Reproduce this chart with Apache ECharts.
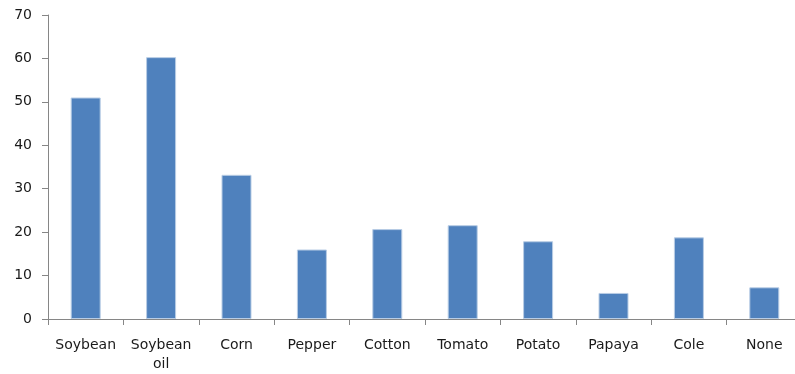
<!DOCTYPE html>
<html>
<head>
<meta charset="utf-8">
<script src="https://cdn.jsdelivr.net/npm/echarts@6/dist/echarts.min.js"></script>
<style>
  html, body { margin: 0; padding: 0; background: #fff; overflow: hidden; }
  #main { width: 802px; height: 374px; }
</style>
</head>
<body>
<div id="main"></div>
<script>
var categories = ['Soybean', 'Soybean\noil', 'Corn', 'Pepper', 'Cotton', 'Tomato', 'Potato', 'Papaya', 'Cole', 'None'];
var values = [51.0, 60.3, 33.2, 16.0, 20.7, 21.6, 17.9, 6.0, 18.8, 7.3];

var chartDom = document.getElementById('main');
var myChart = echarts.init(chartDom);
var option;

option = {
  animation: false,
  textStyle: { fontFamily: 'DejaVu Sans' },
  grid: {
    left: 48,
    right: 0,
    top: 15,
    bottom: 54,
    containLabel: false
  },
  xAxis: {
    type: 'category',
    data: categories,
    axisLine: { lineStyle: { color: '#868686', width: 1 } },
    axisTick: { show: true, length: 6, lineStyle: { color: '#868686' } },
    axisLabel: {
      color: '#1a1a1a',
      fontSize: 14,
      margin: 17,
      interval: 0,
      lineHeight: 19
    }
  },
  yAxis: {
    type: 'value',
    min: 0,
    max: 70,
    interval: 10,
    axisLine: { show: true, lineStyle: { color: '#868686', width: 1 } },
    axisTick: { show: true, length: 6, lineStyle: { color: '#868686' } },
    splitLine: { show: false },
    axisLabel: {
      color: '#1a1a1a',
      fontSize: 14,
      margin: 16
    }
  },
  series: [
    {
      type: 'bar',
      data: values,
      barWidth: 30,
      itemStyle: {
        color: '#4f81bd',
        borderColor: '#b9cde5',
        borderWidth: 1
      }
    }
  ]
};
myChart.setOption(option);
</script>
</body>
</html>
